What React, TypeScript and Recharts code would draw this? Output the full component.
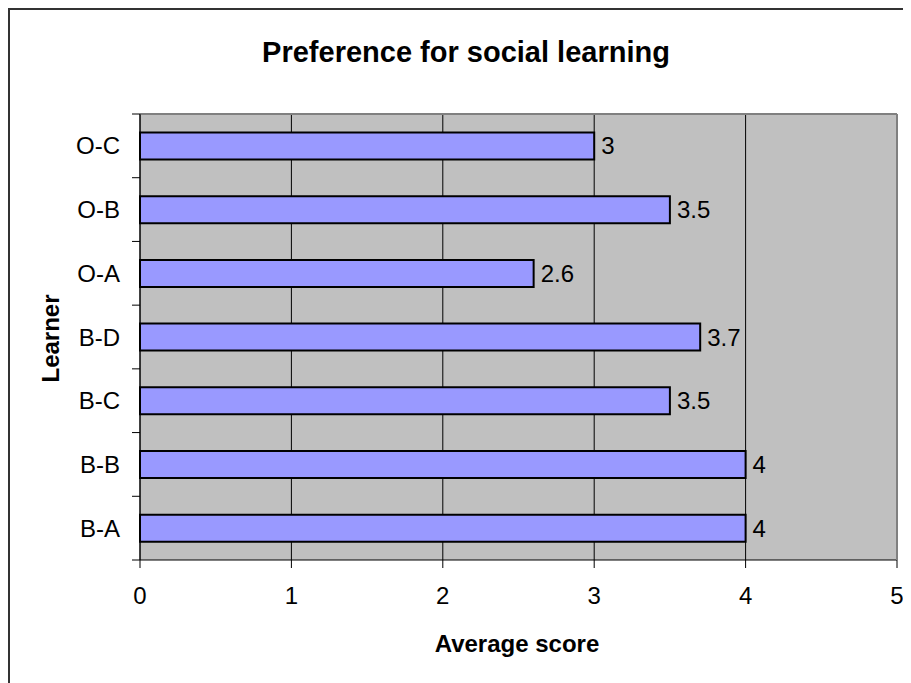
import React from "react";
import {
  BarChart,
  Bar,
  XAxis,
  YAxis,
  CartesianGrid,
  LabelList,
} from "recharts";

const learners = ["O-C", "O-B", "O-A", "B-D", "B-C", "B-B", "B-A"];
const scores = [3, 3.5, 2.6, 3.7, 3.5, 4, 4];
const xTicks = [0, 1, 2, 3, 4, 5];

const data = learners.map((name, i) => ({ name, score: scores[i] }));

const FONT = "'Liberation Sans', Arial, sans-serif";
const Y_TICK_MARGIN = 20;
const Y_TICK_LEN = 8;

function CategoryTick(props: any) {
  const { x, y, payload, index, visibleTicksCount } = props;
  const half = payload && typeof payload.offset === "number" ? payload.offset : 0;
  const lx2 = x + Y_TICK_MARGIN;
  const lx1 = lx2 - Y_TICK_LEN;
  const last = typeof visibleTicksCount === "number" ? index === visibleTicksCount - 1 : index === learners.length - 1;
  return (
    <g>
      <text
        x={x}
        y={y}
        dy="0.355em"
        textAnchor="end"
        fill="#000"
        fontSize={24}
        fontFamily={FONT}
      >
        {payload.value}
      </text>
      {half > 0 && (
        <line x1={lx1} x2={lx2} y1={y - half} y2={y - half} stroke="#000" strokeWidth={1} />
      )}
      {half > 0 && last && (
        <line x1={lx1} x2={lx2} y1={y + half} y2={y + half} stroke="#000" strokeWidth={1} />
      )}
    </g>
  );
}

export default function App() {
  return (
    <div style={{ width: 903, height: 675, overflow: "hidden" }}>
      <div
        style={{
          position: "relative",
          width: 905,
          height: 680,
          border: "2px solid #333",
          background: "#fff",
          fontFamily: FONT,
        }}
      >
        <BarChart
          width={905}
          height={680}
          data={data}
          layout="vertical"
          margin={{ top: 103, right: 17, bottom: 80, left: 40 }}
          barCategoryGap="29%"
        >
          <CartesianGrid
            horizontal={false}
            vertical={true}
            stroke="#000"
            strokeWidth={1}
            fill="#C0C0C0"
            fillOpacity={1}
          />
          <XAxis
            type="number"
            dataKey="score"
            domain={[0, 5]}
            ticks={xTicks}
            interval={0}
            height={50}
            tickSize={8}
            tickMargin={19}
            axisLine={{ stroke: "#000", strokeWidth: 1 }}
            tickLine={{ stroke: "#000", strokeWidth: 1 }}
            tick={{ fill: "#000", fontSize: 24, fontFamily: FONT }}
          />
          <XAxis
            xAxisId="top"
            orientation="top"
            type="number"
            domain={[0, 5]}
            ticks={xTicks}
            height={1}
            tick={false}
            tickLine={false}
            axisLine={{ stroke: "#808080", strokeWidth: 2 }}
          />
          <YAxis
            type="category"
            dataKey="name"
            width={90}
            tickSize={0}
            tickMargin={Y_TICK_MARGIN}
            axisLine={{ stroke: "#000", strokeWidth: 1 }}
            tickLine={false}
            interval={0}
            tick={<CategoryTick />}
          />
          <YAxis
            yAxisId="right"
            orientation="right"
            type="category"
            dataKey="name"
            width={1}
            tick={false}
            tickLine={false}
            axisLine={{ stroke: "#808080", strokeWidth: 2 }}
          />
          <Bar
            dataKey="score"
            fill="#9999FF"
            stroke="#000"
            strokeWidth={2}
            isAnimationActive={false}
          >
            <LabelList
              dataKey="score"
              position="right"
              offset={7}
              fill="#000"
              fontSize={24}
              fontFamily={FONT}
            />
          </Bar>
        </BarChart>
        <svg
          width={905}
          height={680}
          style={{ position: "absolute", left: 0, top: 0, pointerEvents: "none" }}
        >
          <text
            x={456}
            y={52}
            textAnchor="middle"
            fontFamily={FONT}
            fontWeight="bold"
            fontSize={29}
            fill="#000"
          >
            Preference for social learning
          </text>
          <text
            x={507}
            y={642}
            textAnchor="middle"
            fontFamily={FONT}
            fontWeight="bold"
            fontSize={24}
            fill="#000"
          >
            Average score
          </text>
          <text
            transform="translate(49, 328.5) rotate(-90)"
            textAnchor="middle"
            fontFamily={FONT}
            fontWeight="bold"
            fontSize={24}
            fill="#000"
          >
            Learner
          </text>
        </svg>
      </div>
    </div>
  );
}
